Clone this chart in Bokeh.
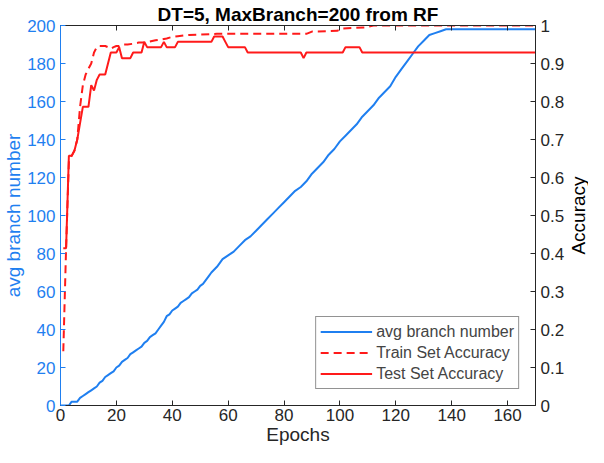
import math
from bokeh.plotting import figure
from bokeh.models import Range1d, LinearAxis, FixedTicker, Legend, LegendItem, Title, Label
from bokeh.embed import file_html
from bokeh.resources import INLINE

# ---- data ----
branch_epochs = [0, 1, 2, 3, 4, 5, 6, 7, 8, 9, 10, 11, 12, 13, 14, 15, 16, 17, 18, 19, 20,
                 21, 22, 23, 24, 25, 26, 27, 28, 29, 30, 31, 32, 33, 34, 35, 36, 37, 38, 39, 40,
                 41, 42, 43, 44, 45, 46, 47, 48, 49, 50, 51, 52, 53,
                 54, 56, 58, 60, 62, 64, 66, 68, 70, 72, 74, 76, 78, 80, 82, 84, 86, 88, 90,
                 92, 94, 96, 98, 100, 102, 104, 106, 108, 110, 112, 114, 116, 118, 120, 122,
                 124, 126, 128, 130, 132, 134, 136, 138, 140, 150, 160, 170]
branch_values = [0, 0, 0, 0, 2, 2, 2, 4, 5, 6, 7, 8, 9, 10, 12, 13, 15, 16, 17, 18, 20,
                 21, 23, 24, 25, 27, 28, 29, 30, 31, 33, 34, 36, 37, 38, 40, 42, 44, 47, 48, 50,
                 51, 52, 54, 55, 56, 57, 59, 60, 61, 63, 64, 66, 68,
                 70, 73, 77, 79, 81, 84, 87, 89, 92, 95, 98, 101, 104, 107, 110, 113, 115, 118, 122,
                 125, 128, 132, 135, 139, 142, 145, 148, 152, 155, 158, 162, 165, 168, 173, 177,
                 181, 185, 189, 192, 195, 196, 197, 198, 198, 198, 198, 198]

train_epochs = [1, 2, 3, 4, 5, 6, 7, 8, 9, 10, 11, 12, 13, 14, 15, 16, 17, 18, 19, 20, 21,
                22, 24, 26, 28, 30, 32, 34, 36, 38, 40, 42, 44, 46, 50, 56, 88, 90, 99, 101,
                109, 112, 170]
train_acc = [0.143, 0.414, 0.643, 0.657, 0.671, 0.700, 0.786, 0.843, 0.871, 0.886, 0.900,
             0.929, 0.943, 0.946, 0.946, 0.946, 0.943, 0.939, 0.943, 0.946, 0.946,
             0.950, 0.950, 0.952, 0.955, 0.955, 0.958, 0.961, 0.963, 0.966, 0.970, 0.972, 0.974,
             0.975, 0.976, 0.978, 0.978, 0.984, 0.986, 0.992, 0.995, 1.0, 1.0]

test_epochs = [1, 2, 3, 4, 5, 6, 7, 8, 10, 11, 12, 13, 14, 16, 17, 18, 20, 21, 22, 25, 26,
               29, 30, 31, 36, 37, 38, 41, 42, 54, 55, 58, 59, 60, 66, 67, 86, 87, 88, 101,
               102, 107, 108, 170]
test_acc = [0.414, 0.414, 0.657, 0.657, 0.671, 0.700, 0.743, 0.786, 0.786, 0.843, 0.829,
            0.857, 0.871, 0.871, 0.900, 0.929, 0.929, 0.943, 0.914, 0.914, 0.929,
            0.929, 0.957, 0.943, 0.943, 0.957, 0.943, 0.943, 0.957, 0.957, 0.971, 0.971,
            0.957, 0.943, 0.943, 0.929, 0.929, 0.914, 0.929, 0.929,
            0.943, 0.943, 0.929, 0.929]

x_ticks = [0, 20, 40, 60, 80, 100, 120, 140, 160]
left_ticks = [0, 20, 40, 60, 80, 100, 120, 140, 160, 180, 200]
right_ticks = [0, 0.1, 0.2, 0.3, 0.4, 0.5, 0.6, 0.7, 0.8, 0.9, 1.0]

BLUE = "#1f7ff0"
RED = "#ff1a1a"
DARK = "#262626"
FONT = "Liberation Sans"

p = figure(width=588, height=447, output_backend="svg", toolbar_location=None,
           x_range=Range1d(0, 170), y_range=Range1d(0, 200),
           min_border_left=0, min_border_right=0, min_border_top=0, min_border_bottom=0,
           x_axis_location=None, y_axis_location=None)
p.extra_y_ranges = {"acc": Range1d(0, 1)}
p.grid.visible = False
p.outline_line_color = DARK
p.background_fill_color = "white"

p.title = Title(text="DT=5, MaxBranch=200 from RF", align="center",
                text_font=FONT, text_font_size="19px", text_font_style="bold",
                text_color="black", standoff=2)


def style(ax, color, label_size="19px"):
    ax.axis_line_color = color
    ax.major_tick_line_color = color
    ax.major_label_text_color = color
    ax.axis_label_text_color = color
    ax.major_tick_in = 5
    ax.major_tick_out = 0
    ax.minor_tick_line_color = None
    ax.major_label_text_font = FONT
    ax.major_label_text_font_size = "17px"
    ax.axis_label_text_font = FONT
    ax.axis_label_text_font_size = label_size
    ax.axis_label_text_font_style = "normal"


xb = LinearAxis(axis_label="Epochs", ticker=FixedTicker(ticks=x_ticks))
style(xb, DARK)
xb.major_label_standoff = 3
xb.axis_label_standoff = 0
p.add_layout(xb, "below")

# top edge ticks (no labels), as in a boxed MATLAB axes
xt = LinearAxis(ticker=FixedTicker(ticks=x_ticks))
style(xt, DARK)
xt.major_label_overrides = {t: "" for t in x_ticks}
xt.major_label_standoff = 0
p.add_layout(xt, "above")

yl = LinearAxis(axis_label="avg branch number", ticker=FixedTicker(ticks=left_ticks))
style(yl, BLUE)
yl.major_label_standoff = 5
yl.axis_label_standoff = 0
p.add_layout(yl, "left")

yr = LinearAxis(y_range_name="acc", ticker=FixedTicker(ticks=right_ticks))
style(yr, DARK)
yr.major_label_standoff = 5
yr.major_label_overrides = {1.0: "1", 0: "0"}
p.add_layout(yr, "right")

# right-axis title, reading bottom to top, placed in the right side panel
acc_label = Label(x=0, x_units="screen", y=0.5, y_range_name="acc", angle=math.pi / 2,
                  text="Accuracy", text_align="center", text_baseline="top",
                  text_font=FONT, text_font_size="19px", text_color="black")
p.add_layout(acc_label, "right")

r_blue = p.line(branch_epochs, branch_values, line_color=BLUE, line_width=2)
r_train = p.line(train_epochs, train_acc, y_range_name="acc", line_color=RED,
                 line_width=2, line_dash="8 5")
r_test = p.line(test_epochs, test_acc, y_range_name="acc", line_color=RED, line_width=2)

legend = Legend(items=[LegendItem(label="avg branch number", renderers=[r_blue]),
                       LegendItem(label="Train Set Accuracy", renderers=[r_train]),
                       LegendItem(label="Test Set Accuracy", renderers=[r_test])],
                location="bottom_right")
legend.margin = 16
legend.border_line_color = DARK
legend.border_line_width = 1
legend.background_fill_color = "white"
legend.background_fill_alpha = 1
legend.label_text_font = FONT
legend.label_text_font_size = "16px"
legend.glyph_width = 52
legend.glyph_height = 21
legend.label_height = 21
legend.spacing = 0
legend.padding = 4
legend.label_standoff = 4
p.add_layout(legend)

open("out.html", "w").write(file_html(p, INLINE))
